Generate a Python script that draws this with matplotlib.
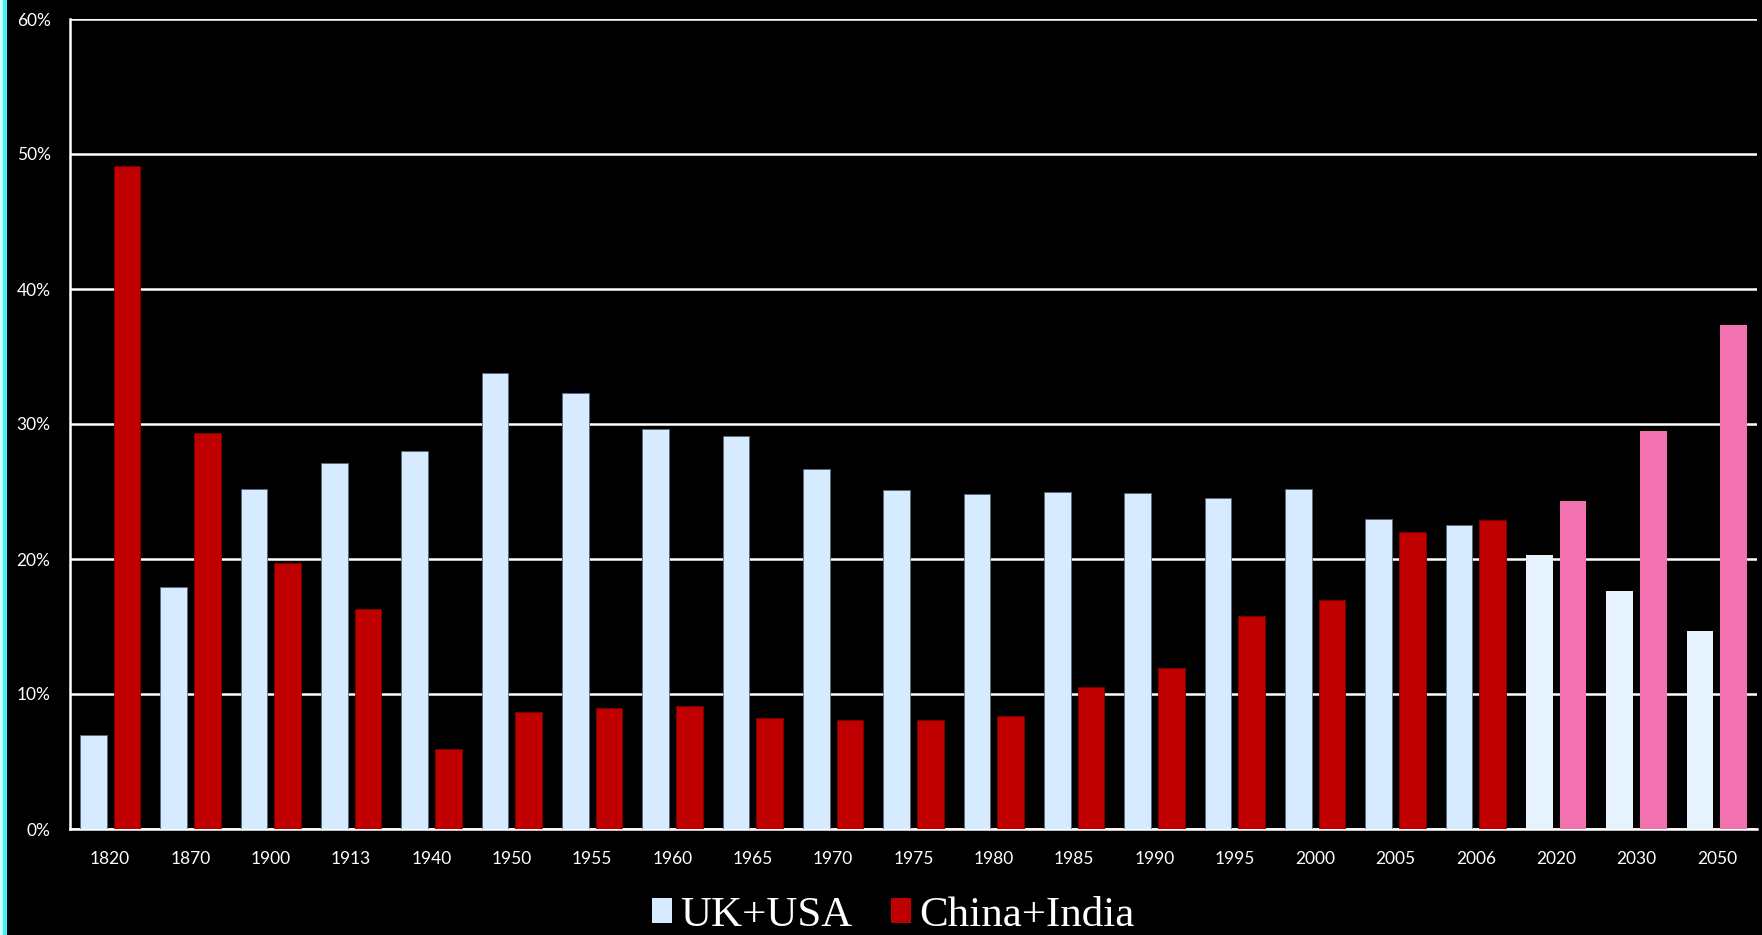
import numpy as np
import matplotlib.pyplot as plt
from matplotlib.patches import Patch, Rectangle

# Share of world GDP (percent)
years = ['1820', '1870', '1900', '1913', '1940', '1950', '1955', '1960', '1965', '1970',
         '1975', '1980', '1985', '1990', '1995', '2000', '2005', '2006', '2020', '2030', '2050']
uk_usa = [7.0, 17.9, 25.2, 27.1, 28.0, 33.8, 32.3, 29.6, 29.1, 26.7,
          25.1, 24.8, 25.0, 24.9, 24.5, 25.2, 23.0, 22.5, 20.3, 17.6, 14.7]
china_india = [49.1, 29.3, 19.7, 16.3, 5.9, 8.7, 9.0, 9.1, 8.2, 8.1,
               8.1, 8.4, 10.5, 11.9, 15.8, 17.0, 22.0, 22.9, 24.3, 29.5, 37.3]
projected = ['2020', '2030', '2050']

# Colours
UK_COL, UK_PROJ = '#D6EBFF', '#E6F3FF'
CI_COL, CI_PROJ = '#C00000', '#F272B0'

# Plotting function
def plot_bars(ax):
    x = np.arange(len(years))
    uk_c = [UK_PROJ if y in projected else UK_COL for y in years]
    ci_c = [CI_PROJ if y in projected else CI_COL for y in years]
    uk_e = ['none' if y in projected else '#5a6a7a' for y in years]
    ci_e = ['none' if y in projected else '#800000' for y in years]
    w = 0.335
    ax.bar(x - 0.21, uk_usa, w, color=uk_c, edgecolor=uk_e, linewidth=0.6, zorder=3)
    ax.bar(x + 0.21, china_india, w, color=ci_c, edgecolor=ci_e, linewidth=0.6, zorder=3)
    ax.set_xticks(x)
    ax.set_xticklabels(years)
    ax.set_xlim(-0.5, len(years) - 0.5)


if __name__ == "__main__":
    plt.rcParams['font.family'] = ['Lato', 'DejaVu Sans']

    fig = plt.figure(figsize=(17.62, 9.35), dpi=100, facecolor='black')
    ax = fig.add_axes([70 / 1762, 1 - 829 / 935, 1687 / 1762, 810 / 935])
    ax.set_facecolor('black')

    plot_bars(ax)

    ax.set_ylim(0, 60)
    ax.set_yticks(range(0, 61, 10))
    ax.set_yticklabels([f'{v}%' for v in range(0, 61, 10)])
    ax.yaxis.grid(True, color='white', linewidth=1.8, zorder=0)
    ax.set_axisbelow(True)
    for side in ['top', 'right']:
        ax.spines[side].set_visible(False)
    for side in ['left', 'bottom']:
        ax.spines[side].set_color('white')
        ax.spines[side].set_linewidth(1.8)
    ax.tick_params(axis='both', colors='white', labelsize=12.5, length=0)
    ax.tick_params(axis='y', pad=14)
    ax.tick_params(axis='x', pad=16)

    handles = [Patch(facecolor=UK_COL, label='UK+USA'),
               Patch(facecolor=CI_COL, label='China+India')]
    leg = fig.legend(handles=handles, loc='lower center', ncol=2, frameon=False,
                     bbox_to_anchor=(0.507, -0.041),
                     prop={'family': 'Liberation Serif', 'size': 31},
                     handlelength=0.45, handleheight=0.5, handletextpad=0.2,
                     columnspacing=0.9)
    for t in leg.get_texts():
        t.set_color('white')

    # cyan frame edge on the left
    fig.patches.append(Rectangle((0, 0), 3 / 1762, 1, transform=fig.transFigure,
                                 facecolor='#C8FFFF', edgecolor='none'))
    fig.patches.append(Rectangle((3 / 1762, 0), 4 / 1762, 1, transform=fig.transFigure,
                                 facecolor='#3CF5F5', edgecolor='none'))

    fig.savefig('out.png', dpi=100, facecolor='black')
